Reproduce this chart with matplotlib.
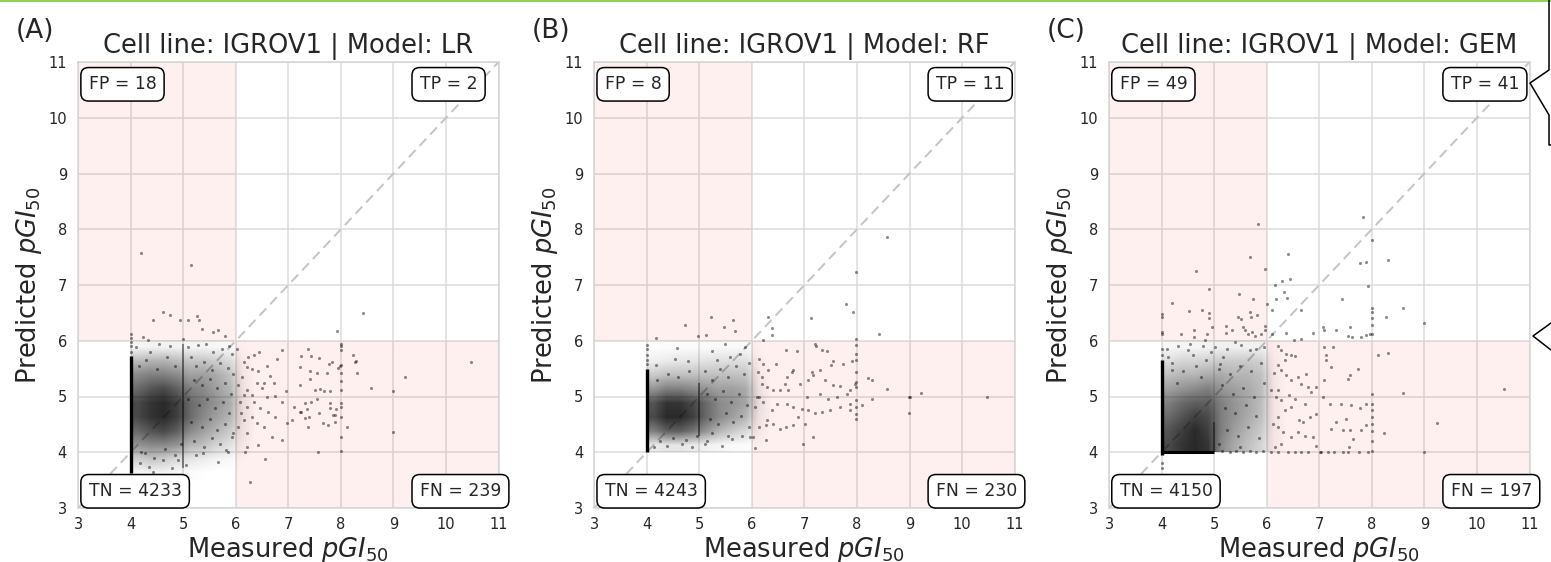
import numpy as np
import matplotlib
matplotlib.use('Agg')
import matplotlib.pyplot as plt
from matplotlib.colors import LinearSegmentedColormap
from matplotlib.lines import Line2D

# panels
models = ['LR', 'RF', 'GEM']
panel_tags = ['(A)', '(B)', '(C)']
cell_line = 'IGROV1'
threshold = 6
ticks = [3, 4, 5, 6, 7, 8, 9, 10, 11]

# confusion counts
tn_counts = [4233, 4243, 4150]
fp_counts = [18, 8, 49]
fn_counts = [239, 230, 197]
tp_counts = [2, 11, 41]

# sparse points (measured, predicted)
lr_points = [
    (4.19, 7.57), (5.14, 7.36), (4.61, 6.52), (4.75, 6.46), (4.42, 6.37), (4.94, 6.37), (5.09, 6.37),
    (5.26, 6.44), (5.30, 6.37), (5.35, 6.21), (5.56, 6.15), (5.67, 6.19), (4.24, 6.07), (4.00, 6.12),
    (4.00, 6.05), (4.33, 6.02), (5.00, 6.04), (5.80, 6.08),
    (8.42, 6.50), (7.92, 6.17),
    (6.15, 5.62), (6.24, 5.71), (6.35, 5.74), (6.45, 5.79), (6.87, 5.83), (6.78, 5.68), (6.21, 5.53),
    (6.30, 5.50), (6.43, 5.46), (6.65, 5.36), (6.72, 5.24), (6.54, 5.24), (6.40, 5.24), (6.49, 5.15),
    (6.21, 5.12), (6.30, 5.03), (6.15, 5.03), (6.59, 5.00), (6.75, 5.01), (6.87, 4.91), (6.35, 4.91),
    (6.08, 4.91), (6.21, 4.82), (6.46, 4.79), (6.62, 4.73), (6.75, 4.64), (6.30, 4.64), (6.15, 4.58),
    (6.40, 4.52), (6.53, 4.46), (6.21, 4.34), (6.68, 4.28), (6.87, 4.22), (6.43, 4.13), (6.21, 4.10),
    (6.56, 3.87), (6.27, 3.47), (6.98, 4.52), (7.06, 4.58), (7.22, 5.53), (7.10, 4.82), (7.22, 4.72),
    (6.12, 5.35), (6.05, 5.20), (6.10, 4.70), (6.05, 4.45), (6.18, 4.00), (6.02, 5.85), (6.60, 5.55),
    (6.95, 5.10),
    (7.38, 5.86), (7.24, 5.73), (7.44, 5.73), (7.58, 5.69), (7.78, 5.58), (7.83, 5.62), (7.94, 5.51),
    (7.98, 5.54), (8.23, 5.74), (8.27, 5.61), (8.29, 5.63), (8.31, 5.43), (7.42, 5.46), (7.55, 5.43),
    (7.73, 5.43), (7.41, 5.32), (7.23, 5.21), (7.51, 5.12), (7.61, 5.13), (7.68, 5.09), (7.79, 5.09),
    (7.55, 4.95), (7.31, 4.88), (7.44, 4.90), (7.35, 4.77), (7.25, 4.73), (7.80, 4.88), (7.79, 4.80),
    (7.90, 4.78), (7.58, 4.71), (7.85, 4.67), (7.88, 4.66), (7.31, 4.62), (7.40, 4.63), (7.65, 4.52),
    (7.76, 4.48), (7.88, 4.54), (7.38, 4.45), (8.11, 4.45), (7.57, 4.00), (8.58, 5.15), (9.22, 5.35),
    (10.48, 5.61), (9.00, 5.09), (9.00, 4.36),
    (8.00, 5.83), (8.00, 5.56), (8.00, 5.42), (8.00, 5.27), (8.00, 5.12), (8.00, 4.88), (8.00, 4.82),
    (8.00, 4.63), (8.00, 4.27), (8.00, 4.03), (8.00, 5.95), (8.00, 5.90),
    (4.11, 5.89), (4.37, 5.80), (4.53, 5.95), (4.75, 5.90), (5.09, 5.89), (5.28, 5.92), (5.44, 5.94),
    (5.57, 5.80), (5.73, 5.86), (5.87, 5.90), (5.92, 5.77), (4.18, 3.80), (4.34, 3.74), (4.43, 3.65),
    (4.62, 3.86), (4.78, 3.71), (4.91, 3.86), (5.06, 3.77), (5.25, 3.95), (5.38, 3.98), (5.66, 3.83),
    (4.27, 3.98), (5.82, 4.04), (5.92, 4.28),
    (4.00, 5.80), (4.00, 5.90), (4.00, 5.97),
    (5.15, 5.70), (5.25, 5.55), (5.40, 5.62), (5.55, 5.48), (5.70, 5.60), (5.85, 5.52), (5.95, 5.40),
    (5.20, 5.30), (5.35, 5.20), (5.50, 5.32), (5.65, 5.15), (5.80, 5.25), (5.90, 5.05), (5.10, 4.95),
    (5.30, 4.85), (5.45, 4.95), (5.60, 4.80), (5.75, 4.90), (5.88, 4.70), (5.15, 4.55), (5.35, 4.45),
    (5.50, 4.60), (5.65, 4.40), (5.80, 4.50), (5.95, 4.35), (5.20, 4.20), (5.40, 4.10), (5.55, 4.25),
    (5.70, 4.15), (5.85, 4.00), (4.15, 5.55), (4.30, 5.65), (4.50, 5.50), (4.70, 5.70), (4.85, 5.55),
    (4.20, 4.00), (4.45, 3.90), (4.65, 4.05), (4.85, 3.95), (4.95, 4.15),
]

rf_points = [
    (4.18, 6.05), (4.73, 6.29), (4.97, 6.08), (5.13, 6.11), (5.22, 6.42), (5.46, 6.25), (5.65, 6.37),
    (5.68, 6.18),
    (6.31, 6.42), (6.39, 6.22), (6.39, 6.10), (6.22, 6.02), (7.12, 6.40), (7.79, 6.66), (7.93, 6.52),
    (7.99, 7.23), (8.58, 7.86), (8.42, 6.13), (7.99, 6.04),
    (6.65, 5.83), (6.86, 5.81), (7.21, 5.94), (7.22, 5.90), (7.33, 5.84), (7.42, 5.81), (7.55, 5.64),
    (7.50, 5.56), (7.74, 5.59), (7.90, 5.64), (7.99, 5.92), (7.99, 5.77), (7.99, 5.65), (7.99, 5.44),
    (7.99, 5.26), (7.96, 5.23), (7.99, 5.17), (7.99, 4.93), (7.99, 4.81), (7.99, 4.69), (7.99, 4.60),
    (8.21, 5.33), (8.29, 5.30), (8.58, 5.13), (8.09, 4.84), (8.28, 4.96), (8.99, 4.99), (8.99, 4.70),
    (7.14, 5.44), (7.07, 5.30), (7.17, 5.38), (7.30, 5.47), (7.39, 5.29), (7.55, 5.20), (7.68, 5.18),
    (7.87, 5.11), (7.30, 5.04), (7.45, 4.96), (7.61, 4.99), (7.80, 5.04), (7.87, 4.87), (7.87, 4.76),
    (7.68, 4.81), (7.49, 4.75), (7.33, 4.72), (7.20, 4.70), (7.07, 4.75), (7.01, 4.51), (7.17, 4.27),
    (6.97, 4.15), (6.88, 4.63), (6.79, 4.48), (6.65, 4.46), (6.53, 4.42), (6.40, 4.51), (6.26, 4.22),
    (6.06, 4.07), (6.14, 4.45), (6.28, 4.57), (6.38, 4.75), (6.47, 4.87), (6.66, 4.87), (6.79, 4.81),
    (6.95, 4.78), (6.76, 5.44), (6.66, 5.35), (6.53, 5.11), (6.41, 5.11), (6.28, 5.17), (6.19, 5.35),
    (6.31, 5.47), (6.22, 5.59), (6.14, 5.68), (6.19, 5.23), (6.14, 4.99), (6.22, 4.90), (6.09, 4.99),
    (6.06, 4.81), (6.92, 5.23), (7.04, 4.99), (6.63, 5.23), (6.69, 5.11), (6.12, 5.44), (6.46, 5.59),
    (6.79, 5.47), (6.03, 4.27), (6.26, 4.48),
    (10.48, 5.00), (9.22, 5.07), (9.00, 5.00),
    (4.58, 5.87), (4.54, 5.68), (4.79, 5.64), (4.18, 5.56), (5.25, 5.82), (5.48, 5.95), (5.33, 5.65),
    (5.58, 5.71), (5.77, 5.77), (5.87, 5.89), (4.13, 4.09), (4.38, 4.12), (4.67, 4.15), (4.87, 4.09),
    (5.14, 4.21), (5.43, 4.12), (5.62, 4.24), (5.81, 4.30), (5.96, 4.27),
    (4.00, 5.58), (4.00, 5.65), (4.00, 5.75), (4.00, 5.85), (4.00, 5.93),
    (5.10, 5.45), (5.25, 5.30), (5.40, 5.50), (5.55, 5.35), (5.70, 5.55), (5.85, 5.40), (5.95, 5.60),
    (5.15, 5.05), (5.30, 4.95), (5.45, 5.10), (5.60, 4.90), (5.75, 5.05), (5.90, 4.85), (5.20, 4.60),
    (5.35, 4.50), (5.50, 4.70), (5.65, 4.55), (5.80, 4.65), (5.95, 4.45), (5.25, 4.35), (5.55, 4.30),
    (4.20, 5.30), (4.40, 5.40), (4.60, 5.35), (4.80, 5.45), (4.25, 4.20), (4.50, 4.25), (4.75, 4.22),
    (4.95, 4.30), (5.10, 4.15),
]

gem_points = [
    (5.84, 8.10), (5.69, 7.50), (5.97, 7.29), (4.65, 7.26), (4.90, 6.92), (5.47, 6.83), (5.74, 6.75),
    (4.19, 6.67), (4.52, 6.53), (4.77, 6.55), (4.90, 6.49), (4.90, 6.40), (5.68, 6.52), (5.71, 6.43),
    (5.82, 6.46), (5.46, 6.43), (5.51, 6.39), (4.00, 6.48), (4.00, 6.43), (4.00, 6.16), (4.00, 6.12),
    (4.37, 6.12), (4.62, 6.20), (4.62, 6.07), (4.87, 6.12), (4.96, 6.25), (5.23, 6.26), (5.23, 6.14),
    (5.34, 6.20), (5.55, 6.25), (5.58, 6.19), (5.65, 6.13), (5.72, 6.16), (5.77, 6.08), (5.90, 6.12),
    (5.96, 6.26), (5.96, 6.19), (4.82, 6.01),
    (7.84, 8.22), (6.41, 7.56), (7.78, 7.39), (7.89, 7.41), (8.30, 7.45), (8.00, 7.81), (7.92, 6.99),
    (6.29, 7.08), (6.44, 7.10), (6.15, 7.00), (6.32, 6.87), (6.18, 6.75), (6.39, 6.76), (6.01, 6.66),
    (6.10, 6.56), (6.65, 6.56), (7.44, 6.74), (8.00, 6.58), (8.00, 6.52), (8.00, 6.40), (8.00, 6.28),
    (8.00, 6.12), (8.27, 6.43), (8.59, 6.58), (9.00, 6.31), (6.37, 6.14), (6.52, 6.02), (6.66, 6.04),
    (6.88, 6.14), (7.07, 6.24), (7.09, 6.19), (7.32, 6.19), (7.58, 6.25), (7.54, 6.08), (7.62, 6.06),
    (7.80, 6.07), (7.89, 6.10), (7.97, 6.12), (6.10, 6.13),
    (6.22, 5.90), (6.28, 5.84), (6.37, 5.77), (6.47, 5.74), (6.54, 5.73), (6.34, 5.65), (6.22, 5.56),
    (6.28, 5.47), (6.14, 5.42), (6.37, 5.38), (6.47, 5.30), (6.59, 5.35), (6.75, 5.40), (6.66, 5.23),
    (6.78, 5.17), (6.85, 5.08), (6.94, 5.17), (7.09, 5.29), (7.13, 5.74), (7.09, 5.89), (7.26, 5.89),
    (7.23, 5.53), (7.13, 5.65), (7.58, 5.39), (7.54, 5.32), (7.73, 5.50), (8.11, 5.75), (8.30, 5.78),
    (8.59, 5.06), (8.24, 4.34), (9.00, 4.00), (8.00, 5.05), (8.00, 4.87), (8.00, 4.75), (8.00, 4.63),
    (8.00, 4.51), (8.00, 4.39), (8.00, 4.21), (8.00, 4.03), (7.42, 4.87), (7.61, 4.85), (7.78, 4.80),
    (7.88, 4.87), (7.20, 4.87), (7.07, 4.99), (7.31, 4.54), (7.45, 4.40), (7.58, 4.40), (7.80, 4.40),
    (7.89, 4.48), (7.22, 4.42), (7.51, 4.60), (7.65, 4.24), (7.56, 4.09), (6.94, 4.12), (7.01, 4.00),
    (6.88, 4.27), (6.72, 4.30), (6.59, 4.36), (6.47, 4.27), (6.31, 4.36), (6.22, 4.45), (6.12, 4.51),
    (6.22, 4.63), (6.34, 4.75), (6.46, 4.82), (6.61, 4.57), (6.69, 4.54), (6.82, 4.63), (6.94, 4.69),
    (6.28, 4.93), (6.18, 4.99), (6.08, 5.11), (6.22, 5.11), (6.42, 5.02), (6.53, 4.96), (6.72, 4.87),
    (6.28, 4.15), (6.15, 4.09), (10.52, 5.13), (9.24, 4.52),
    (6.09, 4.01), (6.22, 4.01), (6.41, 4.01), (6.53, 4.01), (6.66, 4.01), (6.78, 4.01), (7.04, 4.01),
    (7.16, 4.01), (7.29, 4.01), (7.45, 4.01), (7.54, 4.01), (7.75, 4.01), (7.92, 4.01),
    (5.15, 4.02), (5.30, 4.01), (5.42, 4.02), (5.55, 4.01), (5.68, 4.02), (5.80, 4.01), (5.93, 4.02),
    (4.32, 5.90), (4.51, 5.83), (4.13, 5.71), (4.79, 5.90), (5.01, 5.89), (4.60, 5.74), (5.39, 5.98),
    (5.52, 5.92), (5.17, 5.71), (5.68, 5.83), (5.80, 5.86), (5.95, 5.89), (4.19, 5.47), (5.11, 5.59),
    (4.00, 5.75), (4.00, 5.85), (4.00, 3.80), (4.00, 3.72),
    (5.10, 5.50), (5.30, 5.40), (5.50, 5.55), (5.70, 5.45), (5.90, 5.60), (5.15, 5.20), (5.35, 5.05),
    (5.55, 5.15), (5.75, 5.00), (5.95, 5.25), (5.20, 4.80), (5.40, 4.70), (5.60, 4.85), (5.80, 4.65),
    (5.25, 4.40), (5.45, 4.30), (5.65, 4.45), (5.85, 4.25), (5.10, 4.15), (5.50, 4.10), (4.20, 5.60),
    (4.40, 5.45), (4.65, 5.55), (4.85, 5.65), (4.30, 5.25), (4.75, 5.35), (4.10, 5.85), (4.55, 5.95),
    (4.95, 5.80), (5.25, 5.85),
]

# dense core: relative point density on 0.25 cells, x from 4.0, rows bottom->top
grid_step = 0.25
grid_x0 = [4.0, 4.0, 4.0]
grid_y0 = [3.5, 4.0, 4.0]
lr_density = [
    [0.03, 0.05, 0.05, 0.03, 0.02, 0.01, 0.00, 0.00, 0.00, 0.00],
    [0.22, 0.28, 0.24, 0.18, 0.13, 0.09, 0.06, 0.04, 0.01, 0.00],
    [0.50, 0.55, 0.55, 0.50, 0.35, 0.30, 0.20, 0.15, 0.05, 0.00],
    [0.70, 0.80, 0.85, 0.75, 0.55, 0.45, 0.35, 0.25, 0.08, 0.00],
    [0.85, 0.95, 1.00, 0.90, 0.70, 0.55, 0.45, 0.35, 0.10, 0.00],
    [0.85, 0.95, 1.00, 0.90, 0.70, 0.60, 0.50, 0.40, 0.10, 0.00],
    [0.70, 0.80, 0.85, 0.75, 0.60, 0.55, 0.45, 0.35, 0.08, 0.00],
    [0.55, 0.60, 0.60, 0.55, 0.45, 0.45, 0.40, 0.30, 0.06, 0.00],
    [0.32, 0.36, 0.36, 0.32, 0.28, 0.28, 0.23, 0.18, 0.04, 0.00],
    [0.05, 0.06, 0.06, 0.06, 0.05, 0.05, 0.04, 0.03, 0.01, 0.00],
]
rf_density = [
    [0.10, 0.12, 0.12, 0.10, 0.07, 0.05, 0.03, 0.02, 0.01, 0.00],
    [0.60, 0.75, 0.75, 0.65, 0.50, 0.35, 0.25, 0.18, 0.05, 0.00],
    [0.85, 1.00, 1.00, 0.90, 0.70, 0.55, 0.45, 0.35, 0.08, 0.00],
    [0.80, 0.95, 0.95, 0.85, 0.70, 0.55, 0.50, 0.42, 0.10, 0.00],
    [0.50, 0.60, 0.60, 0.55, 0.50, 0.45, 0.45, 0.40, 0.08, 0.00],
    [0.25, 0.30, 0.30, 0.30, 0.30, 0.30, 0.30, 0.28, 0.05, 0.00],
    [0.08, 0.10, 0.12, 0.12, 0.14, 0.15, 0.15, 0.15, 0.03, 0.00],
    [0.01, 0.02, 0.02, 0.02, 0.02, 0.03, 0.03, 0.03, 0.01, 0.00],
]
gem_density = [
    [0.85, 0.95, 1.00, 0.95, 0.55, 0.40, 0.30, 0.20, 0.05, 0.00],
    [0.80, 0.90, 1.00, 0.90, 0.60, 0.45, 0.35, 0.25, 0.06, 0.00],
    [0.70, 0.80, 0.90, 0.85, 0.60, 0.50, 0.40, 0.30, 0.06, 0.00],
    [0.60, 0.70, 0.75, 0.75, 0.60, 0.50, 0.42, 0.32, 0.06, 0.00],
    [0.45, 0.50, 0.55, 0.60, 0.50, 0.45, 0.40, 0.32, 0.06, 0.00],
    [0.30, 0.35, 0.35, 0.40, 0.40, 0.35, 0.35, 0.30, 0.05, 0.00],
    [0.15, 0.20, 0.20, 0.22, 0.25, 0.25, 0.25, 0.22, 0.04, 0.00],
    [0.04, 0.05, 0.05, 0.06, 0.07, 0.07, 0.07, 0.07, 0.02, 0.00],
]

# censored columns (measured = 4 and measured = 5): predicted range covered
col4_lo = [3.62, 4.00, 3.95]
col4_hi = [5.72, 5.50, 5.65]
col5_lo = [3.72, 4.30, 4.00]
col5_hi = [5.95, 5.25, 4.55]
# GEM predictions clipped at 4 (measured 4..5)
gem_floor = (4.0, 5.0, 4.0)

all_points = [lr_points, rf_points, gem_points]
all_density = [lr_density, rf_density, gem_density]

dens_cmap = LinearSegmentedColormap.from_list('dens', [(0, 0, 0, 0), (0, 0, 0, 0.84)])
txt_col = '#262626'

W, H = 1551, 562
fig = plt.figure(figsize=(W / 100, H / 100), dpi=100)
ax_left = [78.1, 594.2, 1109.0]
ax_w = 420.5
ax_top, ax_bot = 62, 508

for i, model in enumerate(models):
    ax = fig.add_axes([ax_left[i] / W, (H - ax_bot) / H, ax_w / W, (ax_bot - ax_top) / H])
    ax.set_axisbelow(True)
    ax.grid(True, color='#dcdcdc', lw=1.1)
    for sp in ax.spines.values():
        sp.set_color('#d4d4d4')
        sp.set_linewidth(1.1)

    # wrong-call regions
    ax.fill_between([3, threshold], threshold, 11, color='red', alpha=0.06, lw=0, zorder=1)
    ax.fill_between([threshold, 11], 3, threshold, color='red', alpha=0.06, lw=0, zorder=1)
    ax.plot([3, 11], [3, 11], color='#c4c4c4', lw=1.4, dashes=(5, 3), zorder=1.5)

    dens = np.array(all_density[i])
    x1 = grid_x0[i] + grid_step * dens.shape[1]
    y1 = grid_y0[i] + grid_step * dens.shape[0]
    ax.imshow(dens, extent=[grid_x0[i], x1, grid_y0[i], y1], origin='lower', cmap=dens_cmap,
              vmin=0, vmax=1, interpolation='bilinear', aspect='auto', zorder=2)

    ax.vlines(4, col4_lo[i], col4_hi[i], color='black', lw=2.4, zorder=3)
    ax.vlines(5, col5_lo[i], col5_hi[i], color='black', lw=1.1, alpha=0.55, zorder=3)
    if model == 'GEM':
        ax.hlines(gem_floor[2], gem_floor[0], gem_floor[1], color='black', lw=2.2, zorder=3)

    pts = np.array(all_points[i])
    ax.scatter(pts[:, 0], pts[:, 1], s=5, c='black', alpha=0.45, lw=0, zorder=3)

    box = dict(boxstyle='round,pad=0.45', fc='white', ec='black', lw=1.1)
    ax.text(3.2, 10.6, f'FP = {fp_counts[i]}', ha='left', va='center', fontsize=12.4,
            color=txt_col, bbox=box, zorder=6, clip_on=False)
    ax.text(9.5, 10.6, f'TP = {tp_counts[i]}', ha='left', va='center', fontsize=12.4,
            color=txt_col, bbox=box, zorder=6, clip_on=False)
    ax.text(3.2, 3.3, f'TN = {tn_counts[i]}', ha='left', va='center', fontsize=12.4,
            color=txt_col, bbox=box, zorder=6, clip_on=False)
    ax.text(9.5, 3.3, f'FN = {fn_counts[i]}', ha='left', va='center', fontsize=12.4,
            color=txt_col, bbox=box, zorder=6, clip_on=False)

    ax.set_xlim(3, 11)
    ax.set_ylim(3, 11)
    ax.set_xticks(ticks)
    ax.set_yticks(ticks)
    ax.tick_params(length=0, labelsize=10.5, labelcolor=txt_col)
    ax.tick_params(axis='y', pad=8)
    ax.tick_params(axis='x', pad=6.5)
    ax.set_title(f'Cell line: {cell_line} | Model: {model}', fontsize=18.5, pad=6.5, color=txt_col)
    ax.set_xlabel(r'Measured $pGI_{50}$', fontsize=18.5, color=txt_col, labelpad=2)
    ax.set_ylabel(r'Predicted $pGI_{50}$', fontsize=18.5, color=txt_col, labelpad=3)
    fig.text((ax_left[i] - 62) / W, 1 - 31 / H, panel_tags[i], ha='left', va='center',
             fontsize=19, color=txt_col)

# screenshot leftovers: green rule on top and callout strokes on the right
fig.add_artist(Line2D([0, 1], [1 - 0.8 / H] * 2, transform=fig.transFigure, color='#8cd24f', lw=1.4))
cx = [1549, 1549, 1530, 1549, 1549, 1551]
cy = [0, 70, 83, 115, 145, 145]
fig.add_artist(Line2D([v / W for v in cx], [1 - v / H for v in cy], transform=fig.transFigure,
                      color='black', lw=1.1))
cx2 = [1551, 1533, 1551]
cy2 = [323, 336, 350]
fig.add_artist(Line2D([v / W for v in cx2], [1 - v / H for v in cy2], transform=fig.transFigure,
                      color='black', lw=1.1))

fig.savefig('out.png', dpi=100)
